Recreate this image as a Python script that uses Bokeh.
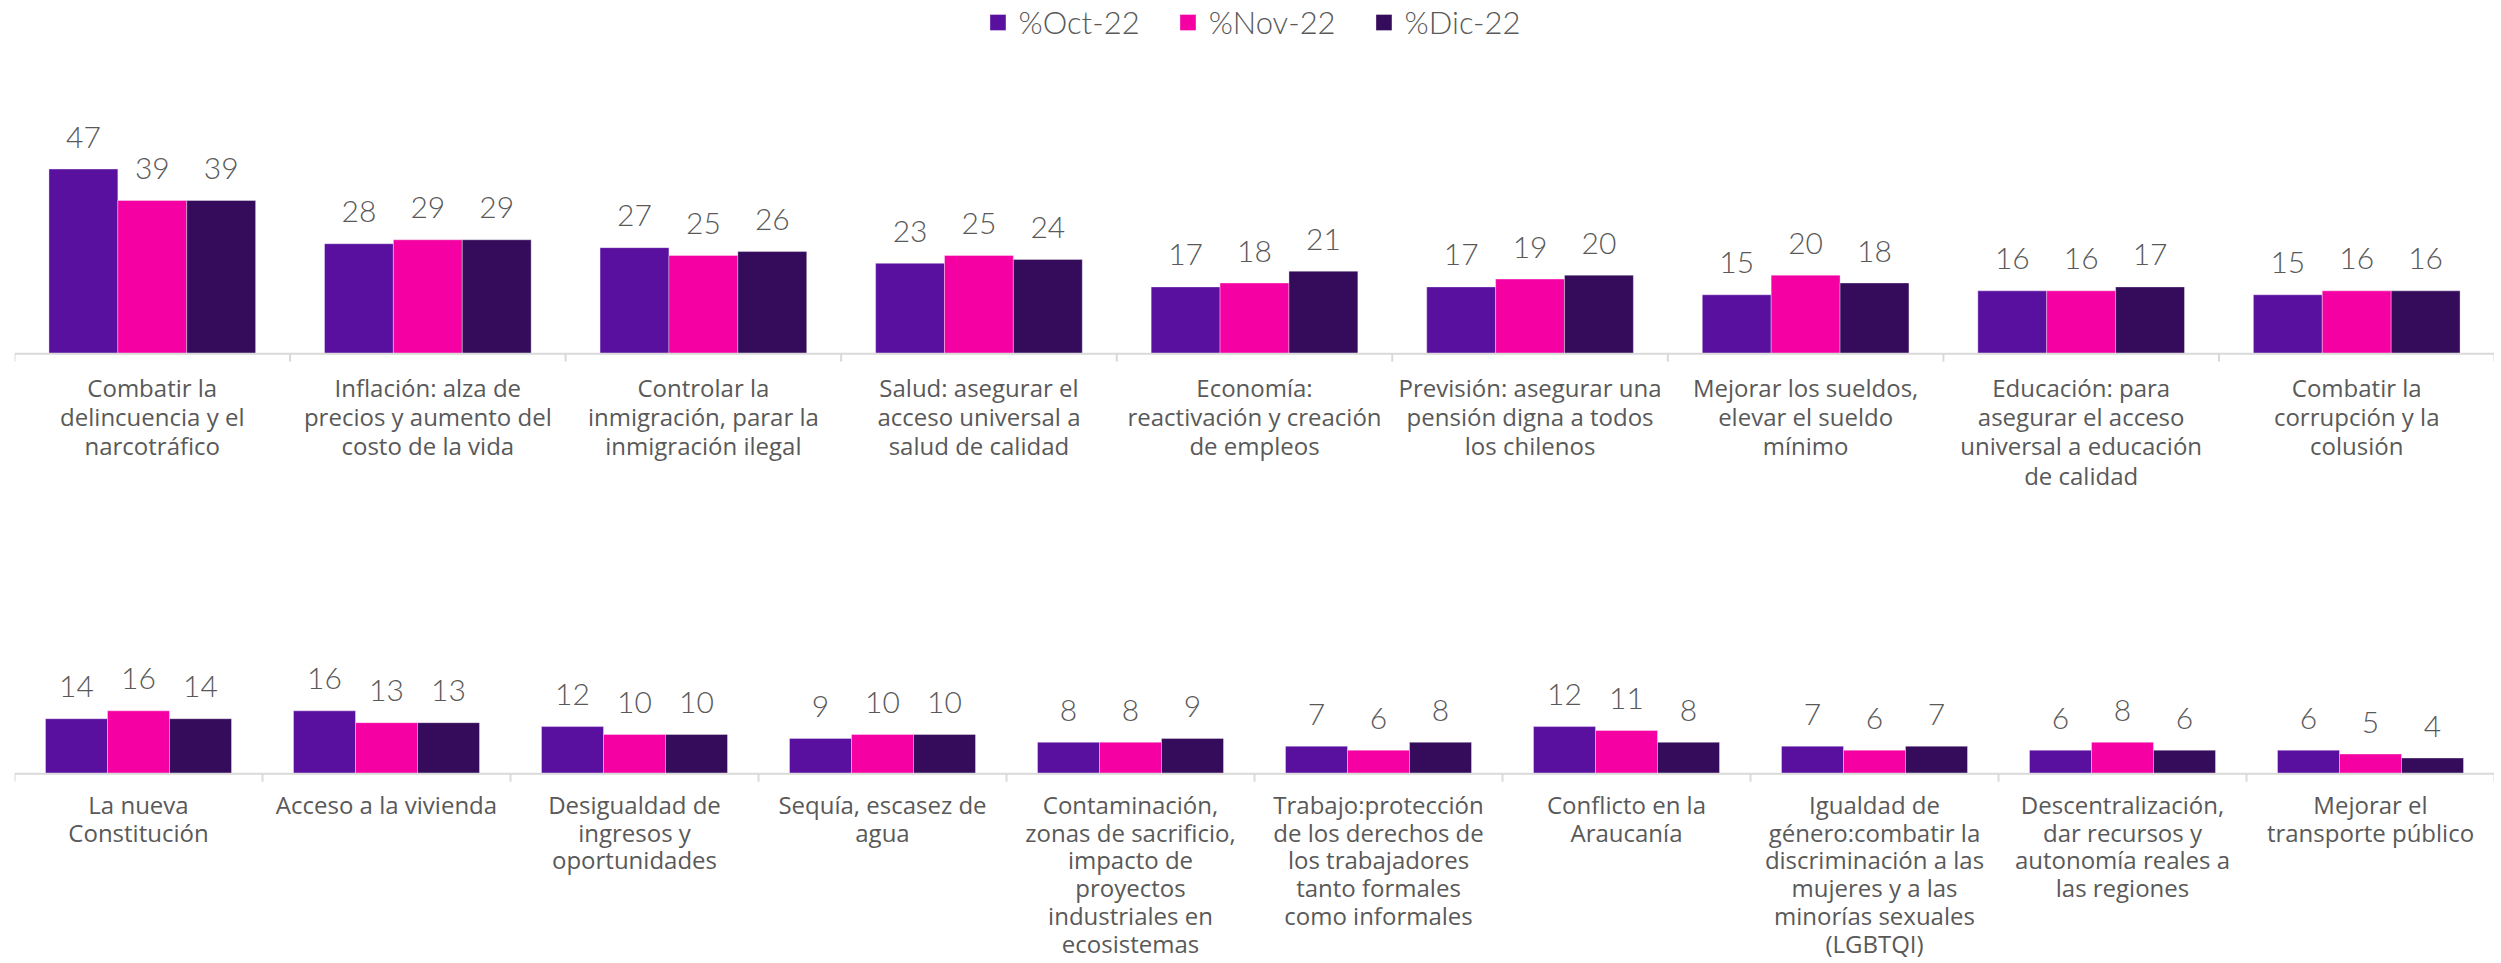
from bokeh.plotting import figure
from bokeh.models import FactorRange, Range1d, ColumnDataSource, LabelSet, Span
from bokeh.transform import dodge
from bokeh.layouts import column
from bokeh.core.properties import value
from bokeh.embed import file_html
from bokeh.resources import INLINE

# ---------------- data ----------------
series_names = ["%Oct-22", "%Nov-22", "%Dic-22"]
series_colors = ["#5A109F", "#F400A3", "#350C5C"]

top_categories = [
    "Combatir la\ndelincuencia y el\nnarcotráfico",
    "Inflación: alza de\nprecios y aumento del\ncosto de la vida",
    "Controlar la\ninmigración, parar la\ninmigración ilegal",
    "Salud: asegurar el\nacceso universal a\nsalud de calidad",
    "Economía:\nreactivación y creación\nde empleos",
    "Previsión: asegurar una\npensión digna a todos\nlos chilenos",
    "Mejorar los sueldos,\nelevar el sueldo\nmínimo",
    "Educación: para\nasegurar el acceso\nuniversal a educación\nde calidad",
    "Combatir la\ncorrupción y la\ncolusión",
]
top_oct = [47, 28, 27, 23, 17, 17, 15, 16, 15]
top_nov = [39, 29, 25, 25, 18, 19, 20, 16, 16]
top_dic = [39, 29, 26, 24, 21, 20, 18, 17, 16]

bottom_categories = [
    "La nueva\nConstitución",
    "Acceso a la vivienda",
    "Desigualdad de\ningresos y\noportunidades",
    "Sequía, escasez de\nagua",
    "Contaminación,\nzonas de sacrificio,\nimpacto de\nproyectos\nindustriales en\necosistemas",
    "Trabajo:protección\nde los derechos de\nlos trabajadores\ntanto formales\ncomo informales",
    "Conflicto en la\nAraucanía",
    "Igualdad de\ngénero:combatir la\ndiscriminación a las\nmujeres y a las\nminorías sexuales\n(LGBTQI)",
    "Descentralización,\ndar recursos y\nautonomía reales a\nlas regiones",
    "Mejorar el\ntransporte público",
]
bottom_oct = [14, 16, 12, 9, 8, 7, 12, 7, 6, 6]
bottom_nov = [16, 13, 10, 10, 8, 6, 11, 6, 8, 5]
bottom_dic = [14, 13, 10, 10, 9, 8, 8, 7, 6, 4]

GRAY = "#595959"
AXIS_GRAY = "#D9D9D9"


def make_chart(cats, s_oct, s_nov, s_dic, height, ymin, ymax, with_legend,
               first_line, line_step):
    p = figure(
        x_range=FactorRange(factors=cats, range_padding=0),
        y_range=Range1d(ymin, ymax),
        width=2494, height=height,
        output_backend="svg", toolbar_location=None,
        min_border_left=14, min_border_right=0,
        min_border_top=0, min_border_bottom=0,
        x_axis_location=None, y_axis_location=None,
    )
    src = ColumnDataSource(dict(
        cat=cats, oct=s_oct, nov=s_nov, dic=s_dic,
        oct_lbl=[str(v) for v in s_oct],
        nov_lbl=[str(v) for v in s_nov],
        dic_lbl=[str(v) for v in s_dic],
    ))
    offsets = [-0.25, 0.0, 0.25]
    fields = ["oct", "nov", "dic"]
    for off, fld, name, col in zip(offsets, fields, series_names, series_colors):
        kw = dict(legend_label=name) if with_legend else {}
        p.vbar(x=dodge("cat", off, range=p.x_range), top=fld, width=0.25, source=src,
               fill_color=col, line_color="white", line_alpha=0.35, line_width=1, **kw)
        p.add_layout(LabelSet(
            x=dodge("cat", off, range=p.x_range), y=fld, text=fld + "_lbl", source=src,
            text_align="center", text_baseline="middle", y_offset=32,
            text_font=value("Lato Light"), text_font_size="30px", text_color=GRAY,
        ))

    # baseline and boundary ticks
    p.add_layout(Span(location=0, dimension="width", line_color=AXIS_GRAY, line_width=2))
    p.segment(x0=dodge("cat", -0.5, range=p.x_range), y0=0,
              x1=dodge("cat", -0.5, range=p.x_range), y1=-2,
              source=src, line_color=AXIS_GRAY, line_width=2)
    last = ColumnDataSource(dict(cat=[cats[-1]]))
    p.segment(x0=dodge("cat", 0.5, range=p.x_range), y0=0,
              x1=dodge("cat", 0.5, range=p.x_range), y1=-2,
              source=last, line_color=AXIS_GRAY, line_width=2)

    # category labels under the baseline, one centred row per line
    lc, lt, lo, lz = [], [], [], []
    for c in cats:
        for i, line in enumerate(c.split("\n")):
            lc.append(c)
            lt.append(line)
            lo.append(-(first_line + i * line_step))
            lz.append(0)
    lsrc = ColumnDataSource(dict(cat=lc, line=lt, off=lo, zero=lz))
    p.add_layout(LabelSet(
        x="cat", y="zero", text="line", y_offset="off", source=lsrc,
        text_align="center", text_baseline="middle",
        text_font=value("Open Sans"), text_font_size="24px", text_color=GRAY,
    ))

    p.xgrid.visible = False
    p.ygrid.visible = False
    p.outline_line_color = None

    if with_legend:
        lg = p.legend[0]
        lg.location = "top_center"
        lg.orientation = "horizontal"
        lg.background_fill_alpha = 0
        lg.border_line_color = None
        lg.label_text_font = "Lato Light"
        lg.label_text_font_size = "31px"
        lg.label_text_color = GRAY
        lg.glyph_width = 20
        lg.glyph_height = 20
        lg.spacing = 38
        lg.label_standoff = 11
        lg.padding = 0
        lg.margin = 3
    return p


top = make_chart(top_categories, top_oct, top_nov, top_dic,
                 height=510, ymin=-39.9, ymax=89.9, with_legend=True,
                 first_line=33.5, line_step=29.3)
bottom = make_chart(bottom_categories, bottom_oct, bottom_nov, bottom_dic,
                    height=453, ymin=-48.3, ymax=67.0, with_legend=False,
                    first_line=30.5, line_step=27.8)

layout = column(top, bottom, spacing=0)
open("out.html", "w").write(file_html(layout, INLINE))
